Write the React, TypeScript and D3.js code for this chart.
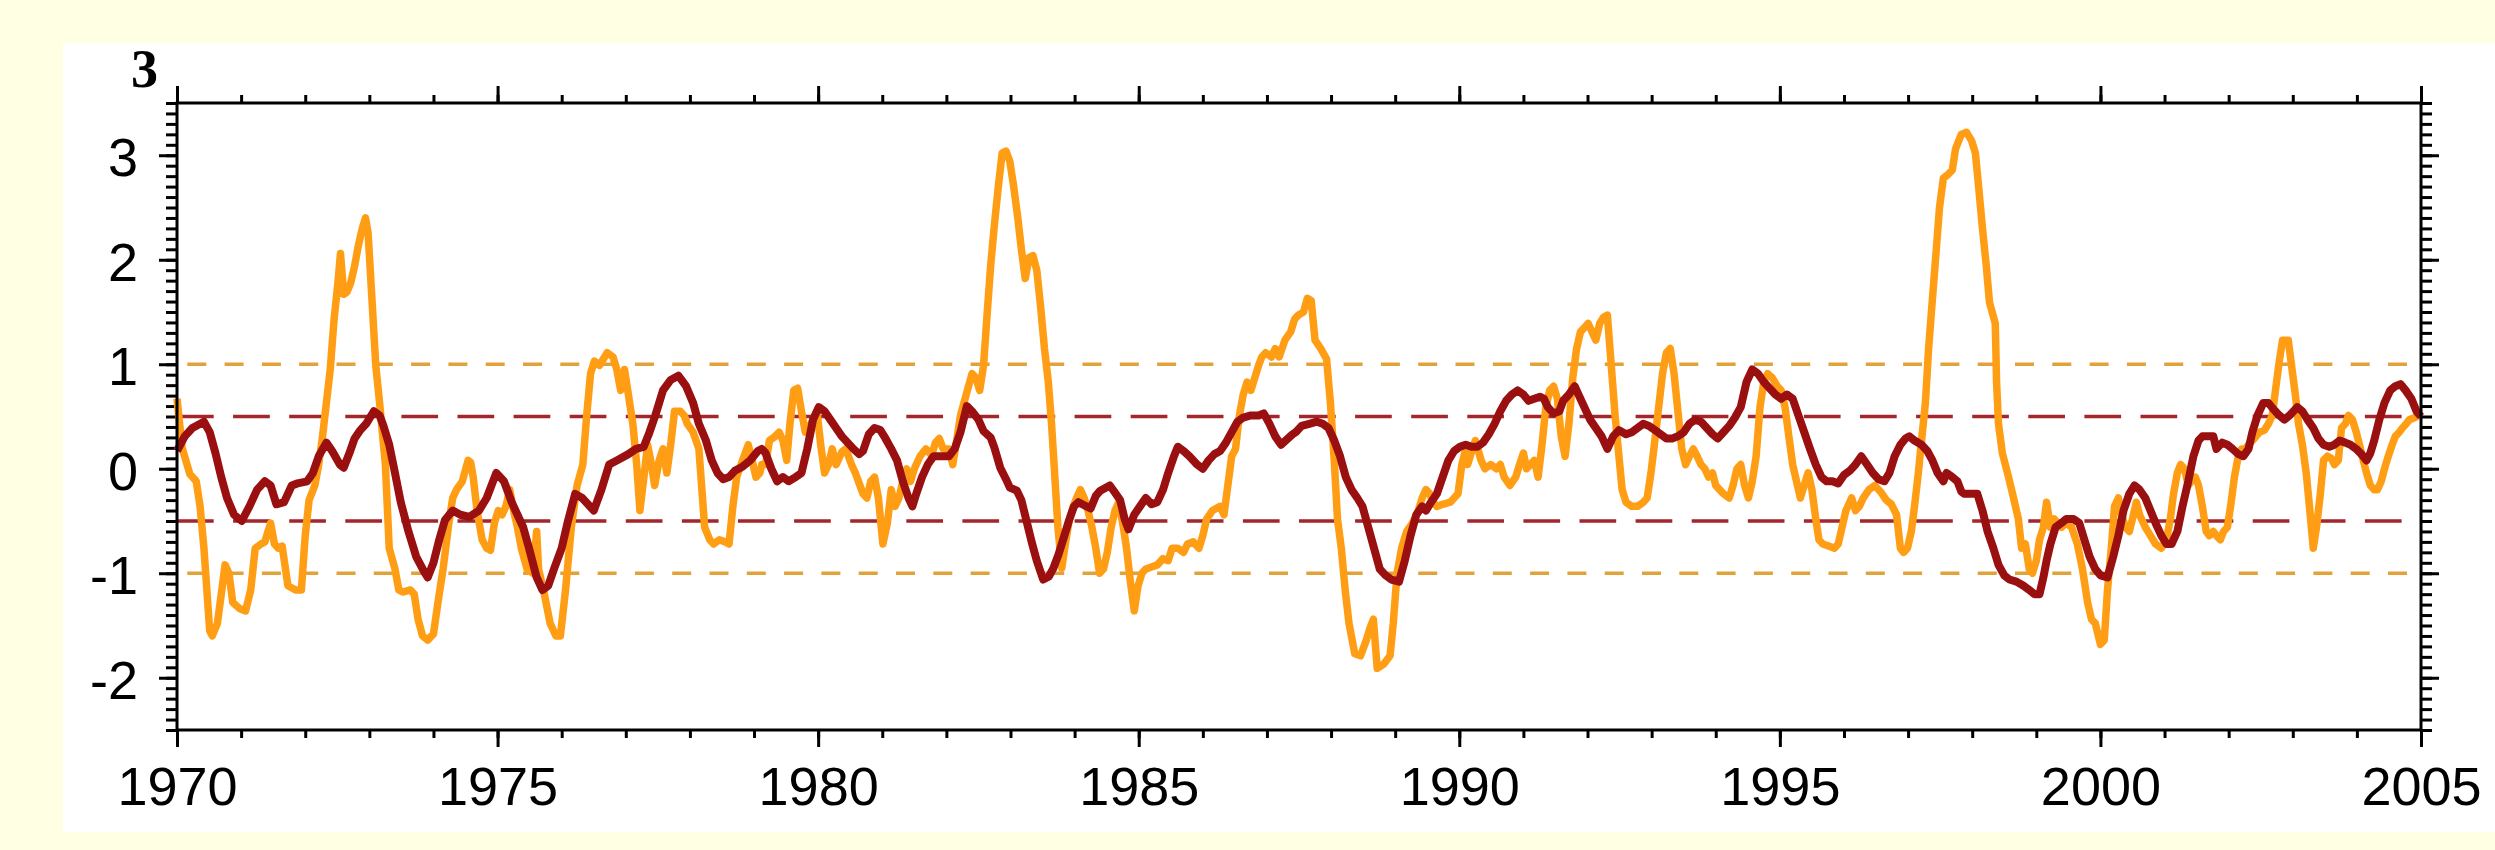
import { useEffect, useRef } from "react";
import * as d3 from "d3";

// [decimal year, index value], ~monthly
const ORANGE_INDEX: [number, number][] = [
  [1970.0, 0.67], [1970.08, 0.2], [1970.2, -0.05], [1970.3, -0.12], [1970.36, -0.36], [1970.42, -0.76],
  [1970.51, -1.55], [1970.55, -1.6], [1970.63, -1.48], [1970.75, -0.92], [1970.81, -1.0], [1970.87, -1.28],
  [1970.98, -1.34], [1971.07, -1.36], [1971.15, -1.16], [1971.22, -0.76], [1971.31, -0.72], [1971.37, -0.7],
  [1971.46, -0.52], [1971.52, -0.72], [1971.58, -0.76], [1971.64, -0.74], [1971.73, -1.12], [1971.85, -1.16],
  [1971.94, -1.16], [1972.0, -0.64], [1972.06, -0.3], [1972.15, -0.16], [1972.21, 0.04], [1972.27, 0.31],
  [1972.33, 0.63], [1972.39, 0.95], [1972.45, 1.43], [1972.51, 1.78], [1972.55, 2.06], [1972.6, 1.67],
  [1972.65, 1.69], [1972.71, 1.78], [1972.77, 1.94], [1972.83, 2.14], [1972.89, 2.3], [1972.94, 2.4],
  [1972.98, 2.26], [1973.04, 1.63], [1973.1, 0.99], [1973.16, 0.63], [1973.25, 0.04], [1973.31, -0.76],
  [1973.4, -0.96], [1973.46, -1.16], [1973.52, -1.18], [1973.64, -1.16], [1973.7, -1.2], [1973.76, -1.44],
  [1973.83, -1.6], [1973.91, -1.64], [1974.0, -1.58], [1974.07, -1.28], [1974.15, -0.96], [1974.24, -0.52],
  [1974.3, -0.28], [1974.36, -0.2], [1974.45, -0.12], [1974.54, 0.08], [1974.58, 0.06], [1974.62, -0.08],
  [1974.68, -0.4], [1974.76, -0.68], [1974.83, -0.76], [1974.89, -0.78], [1974.95, -0.52], [1975.01, -0.4],
  [1975.07, -0.44], [1975.13, -0.36], [1975.19, -0.2], [1975.25, -0.4], [1975.31, -0.56], [1975.37, -0.76],
  [1975.46, -0.96], [1975.55, -1.0], [1975.61, -0.6], [1975.64, -0.96], [1975.73, -1.2], [1975.82, -1.48],
  [1975.91, -1.6], [1975.98, -1.6], [1976.06, -1.16], [1976.15, -0.56], [1976.24, -0.16], [1976.33, 0.04],
  [1976.39, 0.51], [1976.45, 0.91], [1976.51, 1.03], [1976.59, 0.99], [1976.65, 1.05], [1976.71, 1.11],
  [1976.8, 1.07], [1976.86, 0.95], [1976.92, 0.75], [1976.98, 0.95], [1977.04, 0.71], [1977.11, 0.43],
  [1977.17, 0.04], [1977.22, -0.4], [1977.29, -0.04], [1977.34, 0.23], [1977.4, 0.04], [1977.45, -0.16],
  [1977.52, 0.08], [1977.58, 0.19], [1977.64, -0.04], [1977.7, 0.23], [1977.76, 0.55], [1977.85, 0.55],
  [1977.91, 0.51], [1977.96, 0.43], [1978.05, 0.35], [1978.14, 0.19], [1978.23, -0.56], [1978.31, -0.68],
  [1978.37, -0.72], [1978.46, -0.68], [1978.55, -0.7], [1978.61, -0.72], [1978.67, -0.36], [1978.73, -0.08],
  [1978.82, 0.08], [1978.91, 0.23], [1978.97, 0.08], [1979.03, -0.08], [1979.09, -0.04], [1979.12, 0.04],
  [1979.18, 0.04], [1979.24, 0.27], [1979.33, 0.31], [1979.39, 0.35], [1979.45, 0.27], [1979.51, 0.08],
  [1979.56, 0.43], [1979.62, 0.75], [1979.68, 0.77], [1979.74, 0.55], [1979.8, 0.35], [1979.89, 0.43],
  [1979.98, 0.55], [1980.04, 0.23], [1980.1, -0.04], [1980.16, 0.04], [1980.22, 0.19], [1980.28, 0.04],
  [1980.37, 0.16], [1980.43, 0.19], [1980.52, 0.04], [1980.58, -0.04], [1980.64, -0.14], [1980.7, -0.24],
  [1980.76, -0.28], [1980.82, -0.12], [1980.88, -0.08], [1980.94, -0.28], [1981.01, -0.72], [1981.08, -0.52],
  [1981.14, -0.2], [1981.2, -0.36], [1981.26, -0.28], [1981.32, -0.12], [1981.38, 0.0], [1981.44, -0.12],
  [1981.5, 0.0], [1981.59, 0.12], [1981.68, 0.19], [1981.77, 0.13], [1981.83, 0.25], [1981.89, 0.29],
  [1981.95, 0.19], [1982.04, 0.19], [1982.1, 0.04], [1982.16, 0.27], [1982.22, 0.51], [1982.31, 0.71],
  [1982.4, 0.91], [1982.46, 0.87], [1982.52, 0.75], [1982.58, 0.99], [1982.63, 1.43], [1982.69, 1.94],
  [1982.75, 2.34], [1982.81, 2.7], [1982.87, 3.02], [1982.93, 3.04], [1982.99, 2.94], [1983.05, 2.7],
  [1983.11, 2.42], [1983.17, 2.1], [1983.23, 1.82], [1983.29, 2.02], [1983.35, 2.04], [1983.41, 1.9],
  [1983.47, 1.55], [1983.53, 1.15], [1983.59, 0.83], [1983.64, 0.43], [1983.68, 0.04], [1983.74, -0.56],
  [1983.8, -0.95], [1983.86, -0.7], [1983.92, -0.48], [1983.98, -0.36], [1984.03, -0.28], [1984.09, -0.2],
  [1984.15, -0.28], [1984.21, -0.4], [1984.27, -0.56], [1984.33, -0.76], [1984.39, -1.0], [1984.45, -0.96],
  [1984.51, -0.8], [1984.57, -0.56], [1984.63, -0.4], [1984.69, -0.32], [1984.75, -0.52], [1984.81, -0.76],
  [1984.87, -1.08], [1984.93, -1.36], [1984.99, -1.12], [1985.05, -1.0], [1985.11, -0.96], [1985.2, -0.94],
  [1985.29, -0.92], [1985.38, -0.86], [1985.46, -0.88], [1985.52, -0.76], [1985.61, -0.76], [1985.7, -0.8],
  [1985.76, -0.72], [1985.85, -0.7], [1985.94, -0.76], [1986.0, -0.64], [1986.06, -0.48], [1986.15, -0.4],
  [1986.27, -0.36], [1986.33, -0.44], [1986.39, -0.16], [1986.45, 0.12], [1986.51, 0.19], [1986.57, 0.51],
  [1986.63, 0.71], [1986.69, 0.83], [1986.75, 0.75], [1986.81, 0.87], [1986.87, 0.99], [1986.92, 1.07],
  [1986.98, 1.11], [1987.07, 1.07], [1987.13, 1.15], [1987.19, 1.07], [1987.28, 1.23], [1987.37, 1.31],
  [1987.43, 1.43], [1987.49, 1.47], [1987.57, 1.5], [1987.63, 1.63], [1987.69, 1.61], [1987.75, 1.23],
  [1987.84, 1.15], [1987.93, 1.05], [1987.99, 0.63], [1988.05, 0.08], [1988.1, -0.48], [1988.16, -0.76],
  [1988.22, -1.16], [1988.28, -1.48], [1988.37, -1.77], [1988.46, -1.79], [1988.55, -1.64], [1988.61, -1.52],
  [1988.66, -1.44], [1988.72, -1.91], [1988.82, -1.87], [1988.92, -1.79], [1988.97, -1.48], [1989.03, -1.0],
  [1989.1, -0.76], [1989.18, -0.6], [1989.27, -0.52], [1989.36, -0.4], [1989.42, -0.28], [1989.48, -0.2],
  [1989.54, -0.24], [1989.59, -0.32], [1989.65, -0.36], [1989.74, -0.34], [1989.86, -0.32], [1989.92, -0.28],
  [1989.98, -0.24], [1990.04, 0.04], [1990.1, 0.19], [1990.13, 0.04], [1990.19, 0.16], [1990.25, 0.27],
  [1990.34, 0.08], [1990.4, 0.0], [1990.49, 0.04], [1990.58, 0.0], [1990.64, 0.04], [1990.7, -0.08],
  [1990.79, -0.16], [1990.88, -0.08], [1990.94, 0.04], [1991.0, 0.15], [1991.05, 0.0], [1991.11, 0.04],
  [1991.17, 0.08], [1991.23, -0.08], [1991.29, 0.23], [1991.35, 0.59], [1991.41, 0.75], [1991.47, 0.79],
  [1991.53, 0.67], [1991.59, 0.31], [1991.65, 0.12], [1991.71, 0.43], [1991.77, 0.87], [1991.83, 1.15],
  [1991.89, 1.31], [1991.95, 1.35], [1992.01, 1.39], [1992.07, 1.31], [1992.13, 1.23], [1992.19, 1.39],
  [1992.25, 1.45], [1992.31, 1.47], [1992.37, 0.99], [1992.43, 0.51], [1992.49, 0.12], [1992.54, -0.2],
  [1992.6, -0.32], [1992.69, -0.36], [1992.78, -0.36], [1992.87, -0.32], [1992.93, -0.28], [1992.99, -0.04],
  [1993.05, 0.27], [1993.11, 0.59], [1993.17, 0.91], [1993.23, 1.11], [1993.29, 1.15], [1993.35, 0.91],
  [1993.41, 0.55], [1993.47, 0.19], [1993.53, 0.04], [1993.59, 0.12], [1993.65, 0.19], [1993.71, 0.12],
  [1993.77, 0.04], [1993.83, 0.0], [1993.89, -0.08], [1993.95, -0.04], [1994.0, -0.16], [1994.06, -0.2],
  [1994.12, -0.24], [1994.21, -0.28], [1994.27, -0.16], [1994.33, 0.0], [1994.39, 0.04], [1994.45, -0.16],
  [1994.51, -0.28], [1994.57, -0.12], [1994.63, 0.12], [1994.69, 0.59], [1994.75, 0.83], [1994.81, 0.91],
  [1994.88, 0.87], [1994.96, 0.79], [1995.02, 0.75], [1995.08, 0.59], [1995.14, 0.31], [1995.2, 0.04],
  [1995.26, -0.12], [1995.32, -0.28], [1995.38, -0.16], [1995.44, -0.04], [1995.5, -0.2], [1995.56, -0.48],
  [1995.61, -0.68], [1995.67, -0.72], [1995.76, -0.74], [1995.85, -0.76], [1995.91, -0.72], [1995.97, -0.56],
  [1996.03, -0.4], [1996.12, -0.28], [1996.18, -0.4], [1996.24, -0.36], [1996.3, -0.28], [1996.39, -0.2],
  [1996.48, -0.16], [1996.57, -0.22], [1996.66, -0.3], [1996.74, -0.34], [1996.82, -0.44], [1996.88, -0.76],
  [1996.93, -0.8], [1996.99, -0.76], [1997.05, -0.6], [1997.1, -0.36], [1997.16, -0.04], [1997.21, 0.27],
  [1997.27, 0.63], [1997.32, 1.15], [1997.38, 1.63], [1997.44, 2.1], [1997.49, 2.5], [1997.55, 2.78],
  [1997.63, 2.82], [1997.69, 2.86], [1997.74, 3.06], [1997.83, 3.2], [1997.91, 3.22], [1997.99, 3.14],
  [1998.05, 3.02], [1998.1, 2.7], [1998.16, 2.3], [1998.22, 1.94], [1998.27, 1.59], [1998.36, 1.39],
  [1998.38, 0.83], [1998.41, 0.43], [1998.47, 0.15], [1998.55, -0.04], [1998.63, -0.24], [1998.72, -0.48],
  [1998.77, -0.76], [1998.83, -0.72], [1998.89, -0.96], [1998.94, -1.0], [1999.0, -0.88], [1999.05, -0.68],
  [1999.11, -0.56], [1999.16, -0.32], [1999.22, -0.56], [1999.28, -0.48], [1999.33, -0.52], [1999.39, -0.56],
  [1999.47, -0.52], [1999.55, -0.56], [1999.64, -0.72], [1999.72, -0.96], [1999.8, -1.28], [1999.86, -1.44],
  [1999.92, -1.48], [2000.0, -1.68], [2000.06, -1.64], [2000.11, -1.16], [2000.17, -0.76], [2000.22, -0.36],
  [2000.28, -0.28], [2000.33, -0.44], [2000.39, -0.56], [2000.45, -0.6], [2000.5, -0.48], [2000.56, -0.32],
  [2000.61, -0.44], [2000.7, -0.56], [2000.78, -0.64], [2000.86, -0.72], [2000.95, -0.76], [2001.03, -0.68],
  [2001.09, -0.48], [2001.14, -0.24], [2001.2, -0.04], [2001.25, 0.04], [2001.31, 0.0], [2001.37, -0.16],
  [2001.42, -0.12], [2001.48, -0.08], [2001.53, -0.16], [2001.59, -0.36], [2001.65, -0.6], [2001.7, -0.64],
  [2001.76, -0.6], [2001.81, -0.64], [2001.87, -0.68], [2001.92, -0.6], [2001.98, -0.56], [2002.03, -0.36],
  [2002.09, -0.08], [2002.15, 0.12], [2002.2, 0.19], [2002.26, 0.19], [2002.31, 0.23], [2002.4, 0.29],
  [2002.48, 0.35], [2002.56, 0.37], [2002.62, 0.43], [2002.68, 0.51], [2002.73, 0.75], [2002.79, 1.03],
  [2002.84, 1.23], [2002.93, 1.23], [2002.98, 0.99], [2003.04, 0.71], [2003.09, 0.43], [2003.15, 0.23],
  [2003.21, -0.04], [2003.26, -0.36], [2003.32, -0.76], [2003.37, -0.56], [2003.43, -0.24], [2003.48, 0.08],
  [2003.54, 0.12], [2003.6, 0.1], [2003.65, 0.04], [2003.71, 0.08], [2003.76, 0.39], [2003.82, 0.43],
  [2003.87, 0.51], [2003.93, 0.47], [2003.99, 0.35], [2004.04, 0.23], [2004.1, 0.08], [2004.15, -0.04],
  [2004.21, -0.16], [2004.27, -0.2], [2004.32, -0.2], [2004.38, -0.12], [2004.43, 0.0], [2004.49, 0.12],
  [2004.55, 0.23], [2004.6, 0.31], [2004.66, 0.35], [2004.71, 0.39], [2004.77, 0.43], [2004.82, 0.47],
  [2004.91, 0.49], [2004.98, 0.52],
];

const RED_INDEX: [number, number][] = [
  [1970.0, 0.17], [1970.12, 0.31], [1970.24, 0.39], [1970.42, 0.45], [1970.51, 0.35], [1970.6, 0.15],
  [1970.69, -0.08], [1970.78, -0.28], [1970.89, -0.44], [1971.01, -0.5], [1971.13, -0.36], [1971.25, -0.2],
  [1971.37, -0.12], [1971.46, -0.16], [1971.55, -0.34], [1971.67, -0.32], [1971.79, -0.16], [1971.88, -0.14],
  [1972.03, -0.12], [1972.12, -0.04], [1972.21, 0.12], [1972.33, 0.25], [1972.42, 0.17], [1972.54, 0.04],
  [1972.6, 0.01], [1972.69, 0.15], [1972.77, 0.29], [1972.86, 0.37], [1972.95, 0.43], [1973.07, 0.55],
  [1973.16, 0.51], [1973.22, 0.41], [1973.31, 0.23], [1973.4, -0.04], [1973.49, -0.32], [1973.61, -0.6],
  [1973.73, -0.84], [1973.85, -0.98], [1973.91, -1.04], [1974.0, -0.9], [1974.09, -0.68], [1974.18, -0.49],
  [1974.3, -0.4], [1974.42, -0.44], [1974.56, -0.46], [1974.71, -0.4], [1974.83, -0.28], [1974.98, -0.04],
  [1975.1, -0.12], [1975.22, -0.32], [1975.31, -0.44], [1975.4, -0.56], [1975.49, -0.76], [1975.61, -1.04],
  [1975.7, -1.16], [1975.79, -1.12], [1975.88, -0.96], [1976.0, -0.76], [1976.09, -0.52], [1976.21, -0.24],
  [1976.32, -0.28], [1976.5, -0.4], [1976.62, -0.2], [1976.74, 0.04], [1976.86, 0.08], [1977.04, 0.14],
  [1977.16, 0.19], [1977.28, 0.21], [1977.37, 0.35], [1977.46, 0.51], [1977.58, 0.75], [1977.7, 0.85],
  [1977.82, 0.89], [1977.94, 0.79], [1978.05, 0.63], [1978.14, 0.43], [1978.25, 0.27], [1978.34, 0.08],
  [1978.43, -0.04], [1978.52, -0.1], [1978.61, -0.08], [1978.7, -0.02], [1978.82, 0.02], [1978.94, 0.08],
  [1979.06, 0.17], [1979.12, 0.19], [1979.18, 0.15], [1979.27, 0.0], [1979.36, -0.12], [1979.45, -0.08],
  [1979.54, -0.12], [1979.65, -0.08], [1979.74, -0.04], [1979.83, 0.19], [1979.92, 0.47], [1980.01, 0.59],
  [1980.1, 0.55], [1980.19, 0.47], [1980.28, 0.39], [1980.37, 0.31], [1980.46, 0.25], [1980.55, 0.19],
  [1980.64, 0.14], [1980.7, 0.17], [1980.79, 0.33], [1980.88, 0.39], [1980.97, 0.37], [1981.05, 0.29],
  [1981.14, 0.19], [1981.23, 0.08], [1981.32, -0.12], [1981.41, -0.28], [1981.47, -0.36], [1981.53, -0.24],
  [1981.62, -0.08], [1981.71, 0.04], [1981.8, 0.12], [1981.92, 0.12], [1982.04, 0.12], [1982.13, 0.19],
  [1982.22, 0.35], [1982.32, 0.6], [1982.4, 0.55], [1982.5, 0.47], [1982.58, 0.36], [1982.69, 0.3],
  [1982.75, 0.2], [1982.84, 0.01], [1982.93, -0.1], [1982.99, -0.18], [1983.1, -0.21], [1983.17, -0.3],
  [1983.25, -0.5], [1983.33, -0.7], [1983.41, -0.88], [1983.51, -1.06], [1983.6, -1.03], [1983.67, -0.95],
  [1983.75, -0.82], [1983.83, -0.66], [1983.91, -0.5], [1983.99, -0.36], [1984.06, -0.32], [1984.12, -0.34],
  [1984.25, -0.38], [1984.33, -0.26], [1984.4, -0.21], [1984.55, -0.16], [1984.62, -0.22], [1984.71, -0.3],
  [1984.78, -0.48], [1984.84, -0.58], [1984.93, -0.44], [1985.02, -0.36], [1985.11, -0.28], [1985.2, -0.34],
  [1985.29, -0.32], [1985.38, -0.2], [1985.46, -0.04], [1985.55, 0.12], [1985.61, 0.21], [1985.7, 0.17],
  [1985.79, 0.12], [1985.91, 0.04], [1986.0, 0.0], [1986.09, 0.08], [1986.18, 0.14], [1986.27, 0.17],
  [1986.36, 0.25], [1986.45, 0.35], [1986.54, 0.45], [1986.63, 0.49], [1986.75, 0.51], [1986.87, 0.51],
  [1986.95, 0.53], [1987.04, 0.43], [1987.13, 0.31], [1987.22, 0.23], [1987.31, 0.28], [1987.4, 0.33],
  [1987.45, 0.35], [1987.54, 0.41], [1987.66, 0.43], [1987.78, 0.45], [1987.87, 0.43], [1987.96, 0.39],
  [1988.05, 0.27], [1988.14, 0.12], [1988.23, -0.08], [1988.32, -0.2], [1988.41, -0.28], [1988.49, -0.36],
  [1988.58, -0.56], [1988.67, -0.76], [1988.76, -0.96], [1988.85, -1.02], [1988.94, -1.06], [1989.06, -1.08],
  [1989.15, -0.88], [1989.24, -0.64], [1989.33, -0.44], [1989.42, -0.36], [1989.48, -0.4], [1989.56, -0.32],
  [1989.65, -0.24], [1989.74, -0.08], [1989.83, 0.08], [1989.92, 0.17], [1990.01, 0.21], [1990.1, 0.23],
  [1990.19, 0.21], [1990.28, 0.21], [1990.37, 0.25], [1990.46, 0.33], [1990.55, 0.43], [1990.64, 0.55],
  [1990.73, 0.65], [1990.82, 0.71], [1990.91, 0.75], [1991.0, 0.71], [1991.08, 0.65], [1991.17, 0.67],
  [1991.26, 0.69], [1991.32, 0.67], [1991.38, 0.59], [1991.47, 0.53], [1991.56, 0.55], [1991.62, 0.65],
  [1991.71, 0.71], [1991.8, 0.79], [1991.86, 0.71], [1991.95, 0.59], [1992.04, 0.47], [1992.13, 0.39],
  [1992.22, 0.31], [1992.31, 0.19], [1992.4, 0.31], [1992.49, 0.37], [1992.6, 0.33], [1992.69, 0.35],
  [1992.78, 0.39], [1992.87, 0.43], [1992.96, 0.41], [1993.05, 0.37], [1993.14, 0.33], [1993.23, 0.29],
  [1993.32, 0.29], [1993.41, 0.31], [1993.5, 0.35], [1993.59, 0.43], [1993.68, 0.47], [1993.77, 0.45],
  [1993.86, 0.39], [1993.95, 0.33], [1994.03, 0.29], [1994.12, 0.35], [1994.21, 0.41], [1994.3, 0.49],
  [1994.39, 0.59], [1994.48, 0.83], [1994.57, 0.95], [1994.66, 0.91], [1994.75, 0.83], [1994.84, 0.77],
  [1994.93, 0.71], [1995.02, 0.67], [1995.11, 0.71], [1995.2, 0.67], [1995.29, 0.51], [1995.38, 0.35],
  [1995.47, 0.19], [1995.56, 0.04], [1995.65, -0.08], [1995.73, -0.12], [1995.82, -0.12], [1995.91, -0.14],
  [1996.0, -0.06], [1996.09, -0.02], [1996.18, 0.04], [1996.27, 0.12], [1996.36, 0.04], [1996.45, -0.04],
  [1996.54, -0.1], [1996.63, -0.12], [1996.71, -0.04], [1996.79, 0.12], [1996.88, 0.23], [1996.96, 0.29],
  [1997.02, 0.31], [1997.1, 0.27], [1997.21, 0.23], [1997.3, 0.17], [1997.38, 0.08], [1997.46, -0.04],
  [1997.55, -0.12], [1997.6, -0.04], [1997.69, -0.08], [1997.77, -0.12], [1997.83, -0.22], [1997.88, -0.24],
  [1997.97, -0.24], [1998.08, -0.24], [1998.16, -0.4], [1998.24, -0.6], [1998.33, -0.76], [1998.41, -0.92],
  [1998.5, -1.02], [1998.58, -1.06], [1998.69, -1.08], [1998.8, -1.12], [1998.89, -1.16], [1998.97, -1.2],
  [1999.05, -1.2], [1999.11, -1.04], [1999.16, -0.88], [1999.22, -0.72], [1999.3, -0.56], [1999.39, -0.52],
  [1999.47, -0.48], [1999.58, -0.48], [1999.67, -0.52], [1999.75, -0.68], [1999.83, -0.84], [1999.92, -0.96],
  [2000.0, -1.02], [2000.11, -1.04], [2000.2, -0.84], [2000.28, -0.64], [2000.36, -0.4], [2000.45, -0.24],
  [2000.53, -0.16], [2000.61, -0.2], [2000.7, -0.28], [2000.78, -0.4], [2000.86, -0.52], [2000.95, -0.64],
  [2001.03, -0.72], [2001.11, -0.72], [2001.2, -0.6], [2001.28, -0.36], [2001.37, -0.12], [2001.45, 0.12],
  [2001.53, 0.27], [2001.59, 0.31], [2001.67, 0.31], [2001.76, 0.31], [2001.81, 0.19], [2001.9, 0.25],
  [2001.98, 0.23], [2002.06, 0.19], [2002.15, 0.14], [2002.23, 0.12], [2002.31, 0.19], [2002.37, 0.35],
  [2002.45, 0.51], [2002.54, 0.63], [2002.62, 0.63], [2002.7, 0.57], [2002.79, 0.51], [2002.87, 0.47],
  [2002.95, 0.51], [2003.07, 0.59], [2003.15, 0.55], [2003.23, 0.47], [2003.32, 0.39], [2003.4, 0.29],
  [2003.48, 0.23], [2003.57, 0.21], [2003.65, 0.23], [2003.73, 0.27], [2003.82, 0.25], [2003.9, 0.23],
  [2003.99, 0.19], [2004.07, 0.14], [2004.15, 0.08], [2004.21, 0.15], [2004.27, 0.27], [2004.35, 0.47],
  [2004.43, 0.63], [2004.52, 0.75], [2004.6, 0.79], [2004.68, 0.81], [2004.76, 0.75], [2004.85, 0.67],
  [2004.93, 0.55], [2005.0, 0.5],
];

const ORANGE_LEVELS = [1, -1];
const RED_LEVELS = [0.5, -0.5];
const Y_LABELS = [-2, -1, 0, 1, 2, 3];
const X_LABELS = [1970, 1975, 1980, 1985, 1990, 1995, 2000, 2005];
const PANEL_LABEL = "3";

const W = 2495;
const H = 850;

export default function App() {
  const svgRef = useRef<SVGSVGElement>(null);

  useEffect(() => {
    if (!svgRef.current) return;
    document.body.style.margin = "0";

    const left = 177, right = 2421, top = 103, bottom = 730;
    const x = d3.scaleLinear().domain([1970, 2005]).range([left, right]);
    const y = d3.scaleLinear().domain([-2.5, 3.5]).range([bottom, top]);

    const svg = d3.select(svgRef.current);
    svg.selectAll("*").remove();

    svg.append("rect").attr("width", W).attr("height", H).attr("fill", "#FFFFE3");
    svg.append("rect").attr("x", 63).attr("y", 43).attr("width", W - 63).attr("height", 789).attr("fill", "#fff");

    const font = "'Liberation Sans', Arial, Helvetica, sans-serif";
    const minorY = d3.range(-25, 36).map((d) => d / 10);
    const years = d3.range(1970, 2006);

    const styleTicks = (g: any) => {
      g.select(".domain").remove();
      g.selectAll(".tick line").attr("stroke", "#000").attr("stroke-width", 3);
    };

    // minor ticks
    svg.append("g").attr("transform", `translate(${left},0)`)
      .call(d3.axisLeft(y).tickValues(minorY).tickSize(11).tickFormat(() => ""))
      .call(styleTicks);
    svg.append("g").attr("transform", `translate(${right},0)`)
      .call(d3.axisRight(y).tickValues(minorY).tickSize(11).tickFormat(() => ""))
      .call(styleTicks);
    svg.append("g").attr("transform", `translate(0,${bottom})`)
      .call(d3.axisBottom(x).tickValues(years).tickSize(8).tickFormat(() => ""))
      .call(styleTicks);
    svg.append("g").attr("transform", `translate(0,${top})`)
      .call(d3.axisTop(x).tickValues(years).tickSize(8).tickFormat(() => ""))
      .call(styleTicks);

    // major ticks + labels
    svg.append("g").attr("transform", `translate(${left},0)`)
      .call(d3.axisLeft(y).tickValues(Y_LABELS).tickSize(18).tickPadding(21).tickFormat((d) => String(d)))
      .call(styleTicks)
      .call((g) => g.selectAll(".tick text")
        .attr("fill", "#000").attr("font-size", "54px").attr("font-family", font).attr("dy", "0.38em"));
    svg.append("g").attr("transform", `translate(${right},0)`)
      .call(d3.axisRight(y).tickValues(Y_LABELS).tickSize(18).tickFormat(() => ""))
      .call(styleTicks);
    svg.append("g").attr("transform", `translate(0,${bottom})`)
      .call(d3.axisBottom(x).tickValues(X_LABELS).tickSize(17).tickPadding(20).tickFormat((d) => String(d)))
      .call(styleTicks)
      .call((g) => g.selectAll(".tick text")
        .attr("fill", "#000").attr("font-size", "54px").attr("font-family", font));
    svg.append("g").attr("transform", `translate(0,${top})`)
      .call(d3.axisTop(x).tickValues(X_LABELS).tickSize(17).tickFormat(() => ""))
      .call(styleTicks);

    // threshold lines
    ORANGE_LEVELS.forEach((v) => {
      svg.append("line")
        .attr("x1", left).attr("x2", right).attr("y1", y(v)).attr("y2", y(v))
        .attr("stroke", "#E2A23A").attr("stroke-width", 3.5)
        .attr("stroke-dasharray", "19,18.3").attr("stroke-dashoffset", 27);
    });
    RED_LEVELS.forEach((v) => {
      svg.append("line")
        .attr("x1", left).attr("x2", right).attr("y1", y(v)).attr("y2", y(v))
        .attr("stroke", "#A3262A").attr("stroke-width", 3.5)
        .attr("stroke-dasharray", "36.7,19.4");
    });

    const line = d3.line<[number, number]>().x((d) => x(d[0])).y((d) => y(d[1]));

    svg.append("path").datum(ORANGE_INDEX)
      .attr("d", line).attr("fill", "none")
      .attr("stroke", "#FF9D14").attr("stroke-width", 7.5).attr("stroke-linejoin", "round");
    svg.append("path").datum(RED_INDEX)
      .attr("d", line).attr("fill", "none")
      .attr("stroke", "#9A0F0F").attr("stroke-width", 8).attr("stroke-linejoin", "round");

    // frame
    svg.append("rect")
      .attr("x", left).attr("y", top).attr("width", right - left).attr("height", bottom - top)
      .attr("fill", "none").attr("stroke", "#000").attr("stroke-width", 3);

    svg.append("text")
      .attr("x", 158).attr("y", 87).attr("text-anchor", "end")
      .attr("font-family", "'Liberation Serif', 'Times New Roman', serif")
      .attr("font-weight", "bold").attr("font-size", "54px").attr("fill", "#000")
      .text(PANEL_LABEL);
  }, []);

  return (
    <svg ref={svgRef} width={W} height={H} style={{ position: "absolute", left: 0, top: 0, display: "block" }} />
  );
}
